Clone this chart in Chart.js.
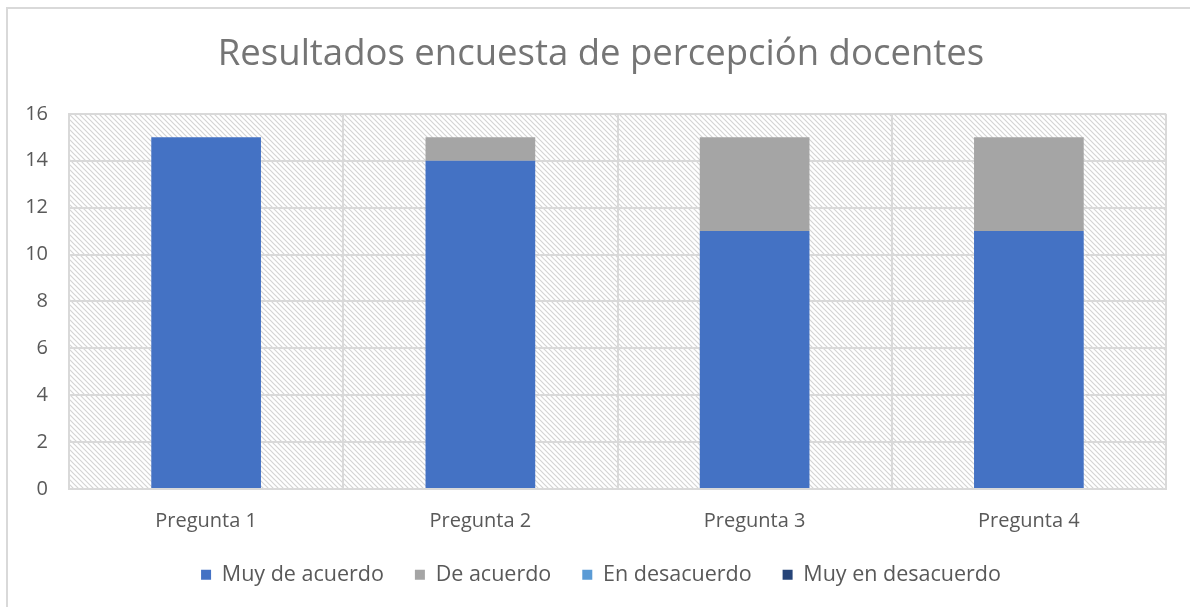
<!DOCTYPE html>
<html>
<head>
<meta charset="utf-8">
<script src="https://cdn.jsdelivr.net/npm/chart.js@4"></script>
<style>
html,body{margin:0;padding:0;background:#fff;}
canvas{display:block;}
</style>
</head>
<body>
<canvas id="c" width="1190" height="607"></canvas>
<script>
const categories = ["Pregunta 1", "Pregunta 2", "Pregunta 3", "Pregunta 4"];
const muyDeAcuerdo = [15, 14, 11, 11];
const deAcuerdo = [0, 1, 4, 4];
const enDesacuerdo = [0, 0, 0, 0];
const muyEnDesacuerdo = [0, 0, 0, 0];
const yTicks = [0, 2, 4, 6, 8, 10, 12, 14, 16];
const titleText = "Resultados encuesta de percepción docentes";

const FONT = "'Open Sans', 'Noto Sans', sans-serif";

function makePattern(ctx) {
  const s = 5;
  const c = document.createElement('canvas');
  c.width = s; c.height = s;
  const g = c.getContext('2d');
  g.fillStyle = '#ffffff';
  g.fillRect(0, 0, s, s);
  g.strokeStyle = '#d4d4d4';
  g.lineWidth = 1.2;
  g.beginPath();
  g.moveTo(-1, -1); g.lineTo(s + 1, s + 1);
  g.moveTo(-1, s - 1); g.lineTo(1, s + 1);
  g.moveTo(s - 1, -1); g.lineTo(s + 1, 1);
  g.stroke();
  return ctx.createPattern(c, 'repeat');
}

const bgPlugin = {
  id: 'bgPlugin',
  beforeDraw(chart) {
    const ctx = chart.ctx;
    const a = chart.chartArea;
    ctx.save();
    ctx.fillStyle = '#ffffff';
    ctx.fillRect(0, 0, chart.width, chart.height);
    ctx.strokeStyle = '#d9d9d9';
    ctx.lineWidth = 2;
    ctx.strokeRect(7, 8, chart.width + 20, chart.height + 20);
    ctx.fillStyle = makePattern(ctx);
    ctx.fillRect(a.left, a.top, a.right - a.left, a.bottom - a.top);
    ctx.restore();
  }
};

new Chart(document.getElementById('c'), {
  type: 'bar',
  data: {
    labels: categories,
    datasets: [
      { label: 'Muy de acuerdo', data: muyDeAcuerdo, backgroundColor: '#4472C4' },
      { label: 'De acuerdo', data: deAcuerdo, backgroundColor: '#A5A5A5' },
      { label: 'En desacuerdo', data: enDesacuerdo, backgroundColor: '#5B9BD5' },
      { label: 'Muy en desacuerdo', data: muyEnDesacuerdo, backgroundColor: '#264478' }
    ]
  },
  plugins: [bgPlugin],
  options: {
    responsive: false,
    animation: false,
    devicePixelRatio: 1,
    layout: { padding: { left: 24, right: 12, top: 0, bottom: 11.5 } },
    datasets: { bar: { categoryPercentage: 1.0, barPercentage: 0.4 } },
    scales: {
      x: {
        stacked: true,
        afterFit(scale) { scale.height = 44; },
        grid: { display: true, offset: true, color: '#d9d9d9', lineWidth: 2, drawTicks: false },
        border: { display: true, color: '#d9d9d9', width: 2 },
        ticks: { color: '#595959', font: { family: FONT, size: 20 }, padding: 20 }
      },
      y: {
        stacked: true,
        min: 0, max: 16,
        afterBuildTicks(scale) { scale.ticks = yTicks.map(v => ({ value: v })); },
        afterFit(scale) { scale.width = 45; },
        grid: { color: '#d9d9d9', lineWidth: 2, drawTicks: false },
        border: { display: true, color: '#d9d9d9', width: 2 },
        ticks: { color: '#595959', font: { family: FONT, size: 20 }, padding: 21 }
      },
      yRight: {
        position: 'right',
        display: true,
        min: 0, max: 16,
        afterFit(scale) { scale.width = 12; },
        grid: { display: false, drawTicks: false },
        border: { display: false },
        ticks: { display: false }
      }
    },
    plugins: {
      title: {
        display: true,
        text: titleText,
        color: '#757575',
        font: { family: FONT, size: 36.5, weight: 'normal' },
        padding: { top: 33, bottom: 37 }
      },
      legend: {
        position: 'bottom',
        labels: {
          color: '#595959',
          font: { family: FONT, size: 21.5 },
          boxWidth: 10, boxHeight: 10,
          padding: 31
        }
      },
      tooltip: { enabled: false }
    }
  }
});
</script>
</body>
</html>
